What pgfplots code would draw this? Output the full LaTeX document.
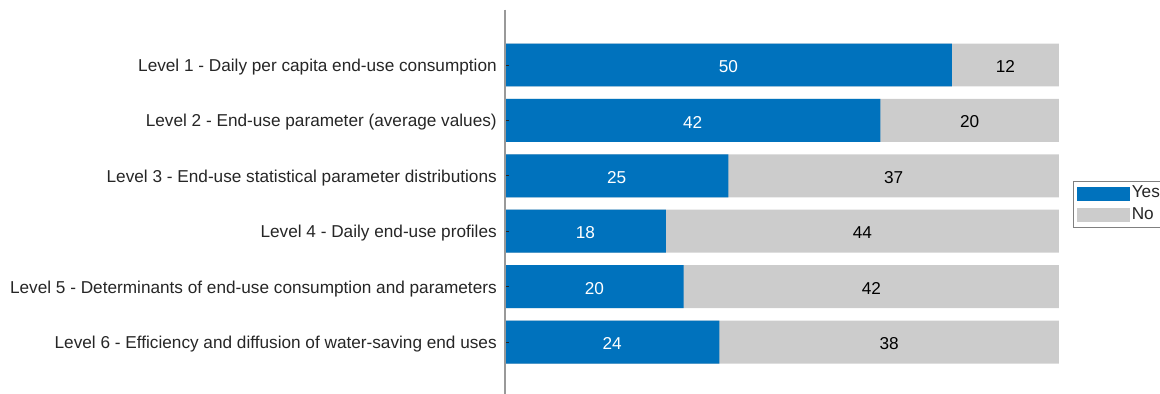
\documentclass[border=0pt]{standalone}
\usepackage{pgfplots}
\usepackage{pgfplotstable}
\usepackage{fontspec}
\setmainfont{Liberation Sans}
\pgfplotsset{compat=1.18}
\definecolor{myblue}{HTML}{0072BD}
\definecolor{mygray}{HTML}{CCCCCC}
\definecolor{txt}{HTML}{262626}
\pgfplotstableread{
k yes no
1 50 12
2 42 20
3 25 37
4 18 44
5 20 42
6 24 38
}\datatable
\begin{document}
\begin{tikzpicture}
\begin{axis}[
  at={(378.75pt,-3.3pt)}, anchor=south west,
  scale only axis, width=415.5pt, height=290.85pt,
  xmin=0, xmax=62, ymin=0, ymax=7, y dir=reverse,
  axis y line*=left, axis x line=none,
  y axis line style={draw=black!40, line width=0.8pt},
  ytick={1,2,3,4,5,6},
  yticklabels={Level 1 - Daily per capita end-use consumption,
    Level 2 - End-use parameter (average values),
    Level 3 - End-use statistical parameter distributions,
    Level 4 - Daily end-use profiles,
    Level 5 - Determinants of end-use consumption and parameters,
    Level 6 - Efficiency and diffusion of water-saving end uses},
  yticklabel style={font=\fontsize{12.9}{15}\selectfont, text=txt, inner sep=0pt, xshift=-6pt, yshift=-1.5pt},
  tick align=inside, major tick length=3pt,
  ytick style={draw=txt, line width=0.6pt},
  axis on top,
  /pgf/number format/assume math mode=true,
  every node near coord/.append style={anchor=center, font=\fontsize{12.9}{15}\selectfont, yshift=-1.2pt},
  legend style={at={(1.0253,0.558)}, anchor=north west, draw=black!50, fill=white,
    inner xsep=3pt, inner ysep=1.5pt, font=\fontsize{12.9}{15}\selectfont, row sep=0pt,
    nodes={inner sep=1.5pt, text height=9.5pt, text depth=3.3pt, text=txt}},
  legend cell align=left,
]
\addplot[xbar, bar width=0.776, bar shift=0pt, fill=mygray, draw=none, forget plot]
  table[x expr=\thisrow{yes}+\thisrow{no}, y=k]{\datatable};
\addplot[xbar, bar width=0.776, bar shift=0pt, fill=myblue, draw=none, forget plot]
  table[x=yes, y=k]{\datatable};
\addplot[draw=none, mark=none, nodes near coords, point meta=explicit,
  every node near coord/.append style={text=white}, forget plot]
  table[x expr=\thisrow{yes}/2, y=k, meta=yes]{\datatable};
\addplot[draw=none, mark=none, nodes near coords, point meta=explicit,
  every node near coord/.append style={text=black}, forget plot]
  table[x expr=\thisrow{yes}+\thisrow{no}/2, y=k, meta=no]{\datatable};
\addlegendimage{legend image code/.code={\fill[myblue] (0pt,-5pt) rectangle (39pt,5pt);}}
\addlegendentry{Yes}
\addlegendimage{legend image code/.code={\fill[mygray] (0pt,-5pt) rectangle (39pt,5pt);}}
\addlegendentry{No}
\end{axis}
\pgfresetboundingbox
\useasboundingbox (0,0) rectangle (870pt,294.75pt);
\end{tikzpicture}
\end{document}
